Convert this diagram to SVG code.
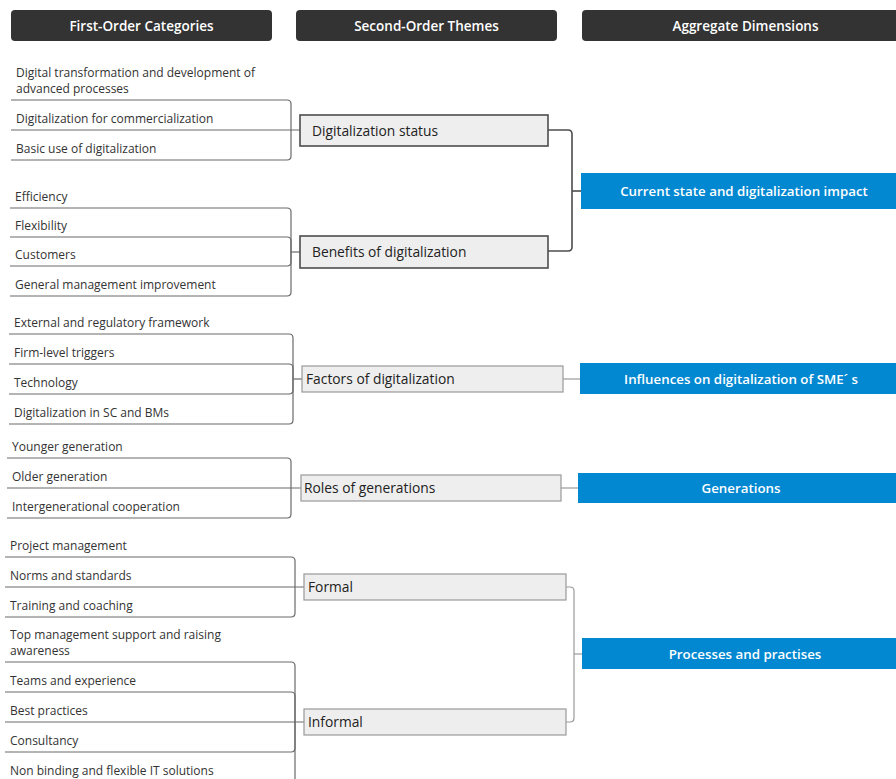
<svg xmlns="http://www.w3.org/2000/svg" width="896" height="779" viewBox="0 0 896 779">
  <style>
    .hdr { fill: #333333; }
    .hdr-t { font-family: "Open Sans", "Noto Sans", sans-serif; font-size: 13.5px; font-weight: 600; fill: #ffffff; text-anchor: middle; }
    .item { font-family: "Open Sans", "Noto Sans", sans-serif; font-size: 12px; fill: #333333; }
    .theme { fill: #eeeeee; stroke: #999999; stroke-width: 1.2; }
    .theme.dark { stroke: #4d4d4d; stroke-width: 1.6; }
    .theme-t { font-family: "Open Sans", "Noto Sans", sans-serif; font-size: 13.8px; fill: #222222; }
    .dim { fill: #0288d1; }
    .dim-t { font-family: "Open Sans", "Noto Sans", sans-serif; font-size: 13.3px; font-weight: 600; fill: #ffffff; text-anchor: middle; }
    .br { fill: none; stroke: #6a6a6a; stroke-width: 1.2; }
    .lk-dark { fill: none; stroke: #4d4d4d; stroke-width: 1.6; }
    .lk { fill: none; stroke: #9a9a9a; stroke-width: 1.2; }
  </style>

  <!-- column headers -->
  <g id="header-first">
    <rect class="hdr" x="11" y="10" width="261" height="31" rx="4"/>
    <text class="hdr-t" x="141.5" y="30.5">First-Order Categories</text>
  </g>
  <g id="header-second">
    <rect class="hdr" x="296" y="10" width="261" height="31" rx="4"/>
    <text class="hdr-t" x="426.5" y="30.5">Second-Order Themes</text>
  </g>
  <g id="header-aggregate">
    <rect class="hdr" x="582" y="10" width="320" height="31" rx="4"/>
    <text class="hdr-t" x="745.5" y="30.5">Aggregate Dimensions</text>
  </g>

  <!-- connectors: category underlines branching into themes, themes into dimensions -->
  <g id="connectors">
    <!-- Digitalization status -->
    <path class="br" d="M291,130 V104 Q291,100 287,100 H11"/>
    <path class="br" d="M300,130 H11"/>
    <path class="br" d="M291,130 V156 Q291,160 287,160 H11"/>
    <!-- Benefits of digitalization -->
    <path class="br" d="M300,252 H291"/>
    <path class="br" d="M291,252 V212 Q291,208 287,208 H10"/>
    <path class="br" d="M291,252 V241 Q291,237 287,237 H10"/>
    <path class="br" d="M291,252 V262 Q291,266 287,266 H10"/>
    <path class="br" d="M291,252 V292 Q291,296 287,296 H10"/>
    <!-- Factors of digitalization -->
    <path class="br" d="M302,379 H293"/>
    <path class="br" d="M293,379 V338 Q293,334 289,334 H9"/>
    <path class="br" d="M293,379 V368 Q293,364 289,364 H9"/>
    <path class="br" d="M293,379 V390 Q293,394 289,394 H9"/>
    <path class="br" d="M293,379 V420 Q293,424 289,424 H9"/>
    <!-- Roles of generations -->
    <path class="br" d="M291,488 V462 Q291,458 287,458 H7"/>
    <path class="br" d="M301,488 H7"/>
    <path class="br" d="M291,488 V514 Q291,518 287,518 H7"/>
    <!-- Formal -->
    <path class="br" d="M295,587 V561 Q295,557 291,557 H5"/>
    <path class="br" d="M304,587 H5"/>
    <path class="br" d="M295,587 V613 Q295,617 291,617 H5"/>
    <!-- Informal -->
    <path class="br" d="M295,722 V666 Q295,662 291,662 H5"/>
    <path class="br" d="M295,722 V696 Q295,692 291,692 H5"/>
    <path class="br" d="M304,722 H5"/>
    <path class="br" d="M295,722 V748 Q295,752 291,752 H5"/>
    <path class="br" d="M295,722 V778 Q295,782 291,782 H5"/>

    <!-- themes to aggregate dimensions -->
    <path class="lk-dark" d="M548,130 H568 Q572,130 572,134 V247 Q572,251 568,251 H548"/>
    <path class="lk-dark" d="M572,191 H581"/>
    <path class="lk" d="M563,379 H580"/>
    <path class="lk" d="M561,488 H578"/>
    <path class="lk" d="M566,587 H570 Q574,587 574,591 V718 Q574,722 570,722 H566"/>
    <path class="lk" d="M574,654 H582"/>
  </g>

  <!-- first-order categories -->
  <g id="cat-digital-transformation">
    <text class="item" x="16" y="77">Digital transformation and development of</text>
    <text class="item" x="16" y="93">advanced processes</text>
  </g>
  <g id="cat-commercialization"><text class="item" x="16" y="123">Digitalization for commercialization</text></g>
  <g id="cat-basic-use"><text class="item" x="16" y="153">Basic use of digitalization</text></g>

  <g id="cat-efficiency"><text class="item" x="15" y="201">Efficiency</text></g>
  <g id="cat-flexibility"><text class="item" x="15" y="230">Flexibility</text></g>
  <g id="cat-customers"><text class="item" x="15" y="259">Customers</text></g>
  <g id="cat-general-management"><text class="item" x="15" y="289">General management improvement</text></g>

  <g id="cat-external"><text class="item" x="14" y="327">External and regulatory framework</text></g>
  <g id="cat-firm-level"><text class="item" x="14" y="357">Firm-level triggers</text></g>
  <g id="cat-technology"><text class="item" x="14" y="387">Technology</text></g>
  <g id="cat-sc-bms"><text class="item" x="14" y="417">Digitalization in SC and BMs</text></g>

  <g id="cat-younger"><text class="item" x="12" y="451">Younger generation</text></g>
  <g id="cat-older"><text class="item" x="12" y="481">Older generation</text></g>
  <g id="cat-intergenerational"><text class="item" x="12" y="511">Intergenerational cooperation</text></g>

  <g id="cat-project-management"><text class="item" x="10" y="550">Project management</text></g>
  <g id="cat-norms"><text class="item" x="10" y="580">Norms and standards</text></g>
  <g id="cat-training"><text class="item" x="10" y="610">Training and coaching</text></g>

  <g id="cat-top-management">
    <text class="item" x="10" y="639">Top management support and raising</text>
    <text class="item" x="10" y="655">awareness</text>
  </g>
  <g id="cat-teams"><text class="item" x="10" y="685">Teams and experience</text></g>
  <g id="cat-best-practices"><text class="item" x="10" y="715">Best practices</text></g>
  <g id="cat-consultancy"><text class="item" x="10" y="745">Consultancy</text></g>
  <g id="cat-it-solutions"><text class="item" x="10" y="775">Non binding and flexible IT solutions</text></g>

  <!-- second-order themes -->
  <g id="theme-status">
    <rect class="theme dark" x="300" y="115" width="248" height="31"/>
    <text class="theme-t" x="312" y="135.5">Digitalization status</text>
  </g>
  <g id="theme-benefits">
    <rect class="theme dark" x="300" y="236" width="248" height="32"/>
    <text class="theme-t" x="312" y="257">Benefits of digitalization</text>
  </g>
  <g id="theme-factors">
    <rect class="theme" x="302" y="366" width="261" height="26"/>
    <text class="theme-t" x="306" y="384">Factors of digitalization</text>
  </g>
  <g id="theme-roles">
    <rect class="theme" x="301" y="475" width="260" height="26"/>
    <text class="theme-t" x="304" y="493">Roles of generations</text>
  </g>
  <g id="theme-formal">
    <rect class="theme" x="304" y="574" width="262" height="26"/>
    <text class="theme-t" x="308" y="592">Formal</text>
  </g>
  <g id="theme-informal">
    <rect class="theme" x="304" y="709" width="262" height="26"/>
    <text class="theme-t" x="308" y="727">Informal</text>
  </g>

  <!-- aggregate dimensions -->
  <g id="dim-current-state">
    <rect class="dim" x="581" y="173" width="315" height="36"/>
    <text class="dim-t" x="744" y="196">Current state and digitalization impact</text>
  </g>
  <g id="dim-influences">
    <rect class="dim" x="580" y="363" width="316" height="31"/>
    <text class="dim-t" x="741" y="383.5">Influences on digitalization of SME´ s</text>
  </g>
  <g id="dim-generations">
    <rect class="dim" x="578" y="473" width="318" height="30"/>
    <text class="dim-t" x="741" y="493">Generations</text>
  </g>
  <g id="dim-processes">
    <rect class="dim" x="582" y="638" width="314" height="31"/>
    <text class="dim-t" x="745" y="658.5">Processes and practises</text>
  </g>
</svg>
